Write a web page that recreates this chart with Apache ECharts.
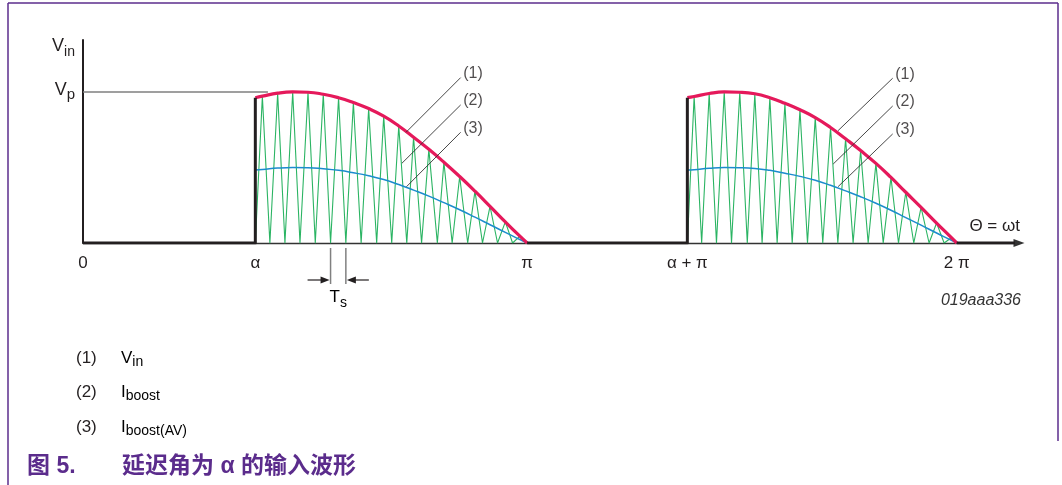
<!DOCTYPE html>
<html>
<head>
<meta charset="utf-8">
<script src="https://cdn.jsdelivr.net/npm/echarts@6/dist/echarts.min.js"></script>
<style>
  html, body { margin: 0; padding: 0; background: #ffffff; }
  #chart { width: 1062px; height: 485px; }
</style>
</head>
<body>
<div id="chart"></div>
<script>
// ---- Phase-angle axis (degrees along the drawn Θ axis) ----
const thetaTicks = [0, 71, 183, 249, 360];
const thetaTickLabels = ['0', 'α', 'π', 'α + π', '2 π'];
const thetaAxisEnd = [384];
const vpGuide = [[0, 1], [76.2, 1]];            // Vp reference line
const vinAtTurnOn = [0.962, 0.962];             // Vin just after α and α + π
const iavgAtTurnOn = [0.483, 0.483];            // Iboost(AV) just after α and α + π

// ---- First half wave (α … π): switching peaks and valleys of Iboost ----
const peaksA   = [73.9, 80.2, 86.4, 92.7, 99.0, 105.3, 111.4, 117.7, 123.9, 130.1, 136.2, 142.5, 148.7, 155.2, 161.5, 167.7, 174.0, 180.0];
const vinA     = [0.972, 0.992, 1.0, 0.998, 0.985, 0.962, 0.93, 0.89, 0.84, 0.775, 0.70, 0.62, 0.535, 0.44, 0.343, 0.243, 0.14, 0.045];
const iavgA    = [0.486, 0.496, 0.5, 0.499, 0.492, 0.481, 0.465, 0.445, 0.42, 0.387, 0.35, 0.31, 0.267, 0.22, 0.171, 0.121, 0.07, 0.023];
const valleysA = [77.0, 83.2, 89.4, 95.7, 102.0, 108.3, 114.6, 121.0, 127.2, 133.4, 139.5, 146.0, 152.1, 158.5, 164.6, 170.8, 177.0];

// ---- Second half wave (α + π … 2π) ----
const peaksB   = [251.8, 258.0, 264.2, 270.6, 276.8, 283.0, 289.2, 295.4, 301.7, 308.0, 314.2, 320.4, 326.7, 332.9, 339.0, 345.3, 351.7, 357.8];
const vinB     = [0.97, 0.99, 1.0, 0.998, 0.988, 0.962, 0.925, 0.882, 0.83, 0.765, 0.69, 0.612, 0.527, 0.434, 0.336, 0.236, 0.132, 0.035];
const iavgB    = [0.485, 0.495, 0.5, 0.499, 0.494, 0.481, 0.462, 0.441, 0.415, 0.382, 0.345, 0.306, 0.263, 0.217, 0.168, 0.118, 0.066, 0.018];
const valleysB = [254.9, 261.0, 267.2, 273.7, 279.8, 286.0, 292.2, 298.5, 304.8, 311.0, 317.3, 323.5, 329.7, 336.0, 342.3, 348.6, 354.8];

// ---- Callouts (1) Vin, (2) Iboost, (3) Iboost(AV) ----
const calloutTags = ['(1)', '(2)', '(3)', '(1)', '(2)', '(3)'];
const calloutFrom = [[155.6, 1.095], [155.6, 0.914], [155.6, 0.733], [333.6, 1.091], [333.6, 0.907], [333.6, 0.722]];
const calloutTo   = [[133.1, 0.733], [131.4, 0.528], [133.3, 0.373], [311.1, 0.744], [309.1, 0.523], [311.1, 0.373]];

// ---- Legend and caption ----
const legendNums  = ['(1)', '(2)', '(3)'];
const legendNames = [['V', 'in'], ['I', 'boost'], ['I', 'boost(AV)']];
const captionNo   = '图 5.';
const captionText = '延迟角为 α 的输入波形';
const figureCode  = '019aaa336';

const FONT = "'Liberation Sans', Arial, sans-serif";
const CJK = "'Liberation Sans', 'Noto Sans CJK SC', sans-serif";
const INK = '#231f20';
const PURPLE = '#5b2c8c';
const RED = '#e5195b';
const GREEN = '#2bb463';
const BLUE = '#1b8ccd';

const [ALPHA, PI, ALPHA_PI, TWO_PI] = thetaTicks.slice(1);

// rich-text styles: main glyph, then a subscript pushed down by top padding
function subRich(size, subSize, drop, color) {
  return {
    m: { fontSize: size, color: color, fontFamily: FONT },
    s: { fontSize: subSize, padding: [drop, 0, 0, 0], color: color, fontFamily: FONT }
  };
}

function halfWave(start, end, peaks, vin, iavg, valleys, vinOn, iavgOn) {
  const sawtooth = [[start, 0]];
  peaks.forEach((p, i) => {
    sawtooth.push([p, vin[i]]);
    if (i < valleys.length) sawtooth.push([valleys[i], 0]);
  });
  sawtooth.push([end, 0]);
  const vinCurve = [[start, vinOn]].concat(peaks.map((p, i) => [p, vin[i]]), [[end, 0]]);
  const avgCurve = [[start, iavgOn]].concat(peaks.map((p, i) => [p, iavg[i]]), [[end, 0]]);
  return { sawtooth, vinCurve, avgCurve };
}

const waveA = halfWave(ALPHA, PI, peaksA, vinA, iavgA, valleysA, vinAtTurnOn[0], iavgAtTurnOn[0]);
const waveB = halfWave(ALPHA_PI, TWO_PI, peaksB, vinB, iavgB, valleysB, vinAtTurnOn[1], iavgAtTurnOn[1]);

function plainLine(data, color, width, z, smooth) {
  return {
    type: 'line', data: data, z: z, silent: true, animation: false,
    symbol: 'none', smooth: smooth ? 0.5 : false,
    lineStyle: { color: color, width: width, join: 'round', cap: 'butt' }
  };
}

const series = [];
[waveA, waveB].forEach(w => {
  series.push(plainLine(w.sawtooth, GREEN, 1.1, 2, false));
  series.push(plainLine(w.avgCurve, BLUE, 1.5, 3, true));
  series.push(plainLine(w.vinCurve, RED, 3.2, 4, true));
});
// input voltage held at zero before each turn-on
series.push(plainLine([[0, 0], [ALPHA, 0], [ALPHA, vinAtTurnOn[0]]], INK, 3, 5, false));
series.push(plainLine([[PI, 0], [ALPHA_PI, 0], [ALPHA_PI, vinAtTurnOn[1]]], INK, 3, 5, false));
series.push(plainLine([[TWO_PI, 0], [thetaAxisEnd[0], 0]], INK, 3, 5, false));
series.push(plainLine(vpGuide, '#7f7f7f', 1.4, 1, false));
calloutFrom.forEach((p, i) => series.push(plainLine([p, calloutTo[i]], '#333333', 0.9, 6, false)));
series.push({
  type: 'scatter', silent: true, animation: false, z: 7,
  symbolSize: 1, itemStyle: { color: 'rgba(0,0,0,0)' },
  data: calloutFrom.map((p, i) => ({ value: p, name: calloutTags[i] })),
  label: { show: true, position: 'right', distance: 2, offset: [0, -4], formatter: '{b}',
           fontSize: 16, color: INK, fontFamily: FONT }
});
// switching period Ts dimension between two valleys
series.push({
  type: 'custom', coordinateSystem: 'cartesian2d', clip: false, silent: true, animation: false, z: 8,
  data: [[valleysA[4], valleysA[5]]],
  encode: { x: [0, 1] },
  renderItem: function (params, api) {
    const a = api.coord([api.value(0), 0]);
    const b = api.coord([api.value(1), 0]);
    const y0 = a[1];
    const ay = y0 + 37;
    return {
      type: 'group',
      children: [
        { type: 'line', shape: { x1: a[0], y1: y0 + 5, x2: a[0], y2: y0 + 41 }, style: { stroke: '#808080', lineWidth: 1.5 } },
        { type: 'line', shape: { x1: b[0], y1: y0 + 5, x2: b[0], y2: y0 + 41 }, style: { stroke: '#808080', lineWidth: 1.5 } },
        { type: 'line', shape: { x1: a[0] - 23, y1: ay, x2: a[0] - 8, y2: ay }, style: { stroke: INK, lineWidth: 1.2 } },
        { type: 'polygon', shape: { points: [[a[0] - 1, ay], [a[0] - 10, ay - 3.5], [a[0] - 10, ay + 3.5]] }, style: { fill: INK } },
        { type: 'line', shape: { x1: b[0] + 8, y1: ay, x2: b[0] + 23, y2: ay }, style: { stroke: INK, lineWidth: 1.2 } },
        { type: 'polygon', shape: { points: [[b[0] + 1, ay], [b[0] + 10, ay - 3.5], [b[0] + 10, ay + 3.5]] }, style: { fill: INK } },
        { type: 'text', style: { text: '{m|T}{s|s}', rich: subRich(17, 14, 12, INK), x: (a[0] + b[0]) / 2, y: y0 + 54, align: 'center', verticalAlign: 'middle' } }
      ]
    };
  }
});

const graphics = [
  { type: 'line', shape: { x1: 8, y1: 3, x2: 1058, y2: 3 }, style: { stroke: PURPLE, lineWidth: 1.5 } },
  { type: 'line', shape: { x1: 8, y1: 3, x2: 8, y2: 485 }, style: { stroke: PURPLE, lineWidth: 1.5 } },
  { type: 'line', shape: { x1: 1058, y1: 3, x2: 1058, y2: 441 }, style: { stroke: PURPLE, lineWidth: 1.5 } },
  { type: 'text', style: { text: figureCode, x: 1021, y: 301, align: 'right', verticalAlign: 'middle',
      fontSize: 16, fontStyle: 'italic', fontFamily: FONT, fill: '#333333' } },
  { type: 'text', style: { text: captionNo, x: 27, y: 467, verticalAlign: 'middle',
      fontSize: 23, fontWeight: 'bold', fontFamily: CJK, fill: PURPLE } },
  { type: 'text', style: { text: captionText, x: 122, y: 467, verticalAlign: 'middle',
      fontSize: 23, fontWeight: 'bold', fontFamily: CJK, fill: PURPLE } }
];
const legendY = [358, 392, 427];
legendNums.forEach((n, i) => {
  graphics.push({ type: 'text', style: { text: n, x: 76, y: legendY[i], verticalAlign: 'middle',
    fontSize: 17, fontFamily: FONT, fill: INK } });
  graphics.push({ type: 'text', style: { text: '{m|' + legendNames[i][0] + '}{s|' + legendNames[i][1] + '}',
    rich: subRich(17, 14, 8, INK), x: 121, y: legendY[i], verticalAlign: 'middle' } });
});

const option = {
  animation: false,
  backgroundColor: '#ffffff',
  grid: { left: 83, right: 47, top: 40, bottom: 242, containLabel: false, outerBoundsMode: 'none' },
  xAxis: {
    type: 'value', min: 0, max: thetaAxisEnd[0],
    name: 'Θ = ωt', nameLocation: 'end', nameGap: 5, nameMoveOverlap: false,
    nameTextStyle: { align: 'right', verticalAlign: 'bottom', padding: [0, 0, 8, 0], fontSize: 17, color: INK, fontFamily: FONT },
    axisLine: { show: true, onZero: false, symbol: ['none', 'triangle'], symbolSize: [8, 11], symbolOffset: [0, 4],
                lineStyle: { color: '#333333', width: 1.3 } },
    axisTick: { show: false },
    splitLine: { show: false },
    axisLabel: {
      customValues: thetaTicks, showMinLabel: true, showMaxLabel: true, margin: 12,
      formatter: v => thetaTickLabels[thetaTicks.indexOf(v)],
      fontSize: 17, color: INK, fontFamily: FONT
    }
  },
  yAxis: {
    type: 'value', min: 0, max: 1.344,
    name: '{m|V}{s|in}', nameLocation: 'end', nameGap: 6, nameMoveOverlap: false,
    nameTextStyle: { align: 'right', verticalAlign: 'top', padding: [0, 8, 0, 0], rich: subRich(18, 14, 11, INK) },
    axisLine: { show: true, onZero: false, lineStyle: { color: INK, width: 2 } },
    axisTick: { show: false },
    splitLine: { show: false },
    axisLabel: {
      customValues: [1], margin: 8, padding: [0, 0, 4, 0],
      formatter: () => '{m|V}{s|p}',
      rich: subRich(18, 15, 9, INK)
    }
  },
  graphic: graphics,
  series: series
};

const chart = echarts.init(document.getElementById('chart'), null, { renderer: 'canvas' });
chart.setOption(option);
</script>
</body>
</html>
